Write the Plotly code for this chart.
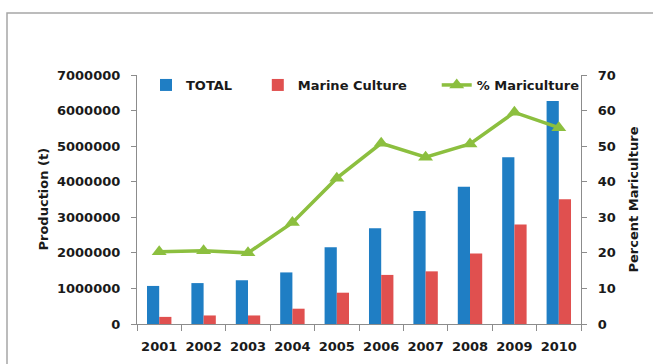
import plotly.graph_objects as go

years = ["2001", "2002", "2003", "2004", "2005", "2006", "2007", "2008", "2009", "2010"]
total = [1070000, 1150000, 1230000, 1450000, 2160000, 2690000, 3180000, 3860000, 4690000, 6270000]
marine = [200000, 240000, 240000, 430000, 880000, 1380000, 1480000, 1980000, 2800000, 3510000]
pct_mariculture = [20.3, 20.6, 20.0, 28.5, 41.0, 50.8, 46.9, 50.6, 59.5, 55.2]

W, H = 653, 364
ML, MR, MT, MB = 137, 72, 75, 40
PW, PH = W - ML - MR, H - MT - MB

FONT = "DejaVu Sans"
TXT = "#1a1a1a"
AX = "#8c8c8c"
NB = "\u00a0"

fig = go.Figure()
fig.add_trace(go.Bar(x=years, y=total, name="<b>TOTAL</b>" + NB * 5, marker_color="#1F7EC4",
                     marker_line_width=0))
fig.add_trace(go.Bar(x=years, y=marine, name="<b>Marine Culture</b>" + NB * 6,
                     marker_color="#E0504F", marker_line_width=0))
fig.add_trace(go.Scatter(x=years, y=pct_mariculture, name="<b>% Mariculture</b>", yaxis="y2",
                         mode="lines+markers",
                         line=dict(color="#8CBF3F", width=3.5),
                         marker=dict(symbol="triangle-up", size=13, color="#8CBF3F")))

# outer chart frame (extends past the right/bottom edges)
fig.add_shape(type="rect", xref="paper", yref="paper",
              x0=(7 - ML) / PW, x1=(W + 10 - ML) / PW,
              y0=(H - MB - (H + 10)) / PH, y1=(H - MB - 13) / PH,
              line=dict(color="#a6a6a6", width=1.5), fillcolor="rgba(0,0,0,0)", layer="below")

fig.add_annotation(text="<b>Production (t)</b>", textangle=-90, showarrow=False,
                   xref="paper", yref="paper", x=(43 - ML) / PW, y=0.5,
                   xanchor="center", yanchor="middle",
                   font=dict(family=FONT, size=13, color=TXT))
fig.add_annotation(text="<b>Percent Mariculture</b>", textangle=-90, showarrow=False,
                   xref="paper", yref="paper", x=(633 - ML) / PW, y=0.5,
                   xanchor="center", yanchor="middle",
                   font=dict(family=FONT, size=13, color=TXT))

tick_font = dict(family=FONT, size=13, color=TXT, weight="bold")

fig.update_layout(
    width=W, height=H,
    margin=dict(l=ML, r=MR, t=MT, b=MB, autoexpand=False),
    paper_bgcolor="white", plot_bgcolor="white",
    barmode="group", bargap=0.45, bargroupgap=0,
    font=dict(family=FONT, size=13, color=TXT),
    showlegend=True,
    legend=dict(orientation="h", x=(146 - ML) / PW, y=(H - MB - 85) / PH,
                xanchor="left", yanchor="middle",
                bgcolor="rgba(0,0,0,0)", font=dict(family=FONT, size=13, color=TXT),
                traceorder="normal"),
    xaxis=dict(type="category", range=[-0.5, len(years) - 0.5],
               showline=True, linecolor=AX, linewidth=1.2,
               ticks="outside", tickson="boundaries", ticklen=6, tickcolor=AX,
               tickangle=0, showgrid=False, automargin=False, ticklabelstandoff=10,
               tickfont=tick_font),
    yaxis=dict(range=[0, 7000000], dtick=1000000, tickformat="d",
               showline=True, linecolor=AX, linewidth=1.2, automargin=False,
               ticks="outside", ticklen=5, tickcolor=AX, showgrid=False, zeroline=False,
               ticklabelstandoff=8, tickfont=tick_font),
    yaxis2=dict(range=[0, 70], dtick=10, overlaying="y", side="right",
                showline=True, linecolor=AX, linewidth=1.2, automargin=False,
                ticks="outside", ticklen=5, tickcolor=AX, showgrid=False, zeroline=False,
                ticklabelstandoff=8, tickfont=tick_font),
)

fig.write_html("out.html")
